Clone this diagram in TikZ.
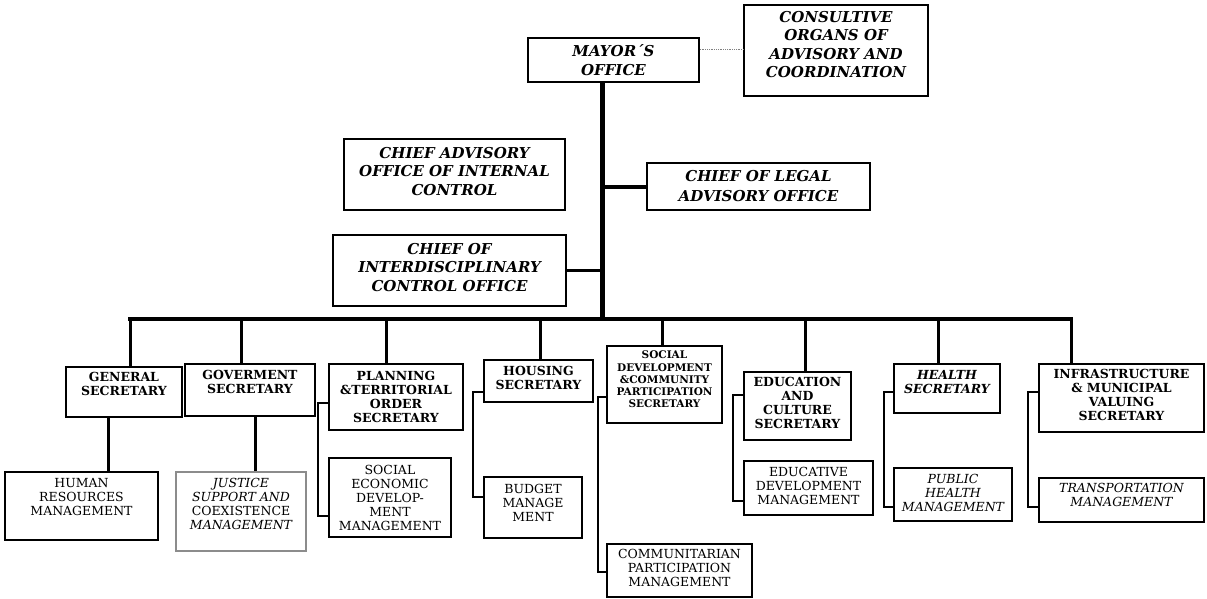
\documentclass[tikz,border=0pt]{standalone}
\usepackage{fontspec}
\setmainfont{DejaVu Serif}
\usetikzlibrary{fit}
\begin{document}
\begin{tikzpicture}[x=1pt,y=-1pt,
  box/.style={draw, line width=1.6pt, inner sep=0pt},
  gbox/.style={draw=black!45, line width=1.2pt, inner sep=0pt},
  txt/.style={align=center, inner sep=0pt},
  bi/.style={txt, font=\fontsize{15}{18.5}\selectfont\bfseries\itshape},
  bs/.style={txt, font=\fontsize{12.5}{14}\selectfont\bfseries},
  bsm/.style={txt, font=\fontsize{10.5}{12.3}\selectfont\bfseries},
  rg/.style={txt, font=\fontsize{12.5}{14}\selectfont},
  spineline/.style={line width=5pt},
  busline/.style={line width=3.5pt},
  drop/.style={line width=3pt},
  brk/.style={line width=2.5pt},
  dotline/.style={draw=black!50, line width=0.8pt, densely dotted}]
\useasboundingbox (0,0) rectangle (1207,599);

% top level
\node[box, fit={(528,38) (699,82)}] (mayor) {};
\node[bi] (mayor-t) at (mayor.center) {MAYOR´S\\OFFICE};
\node[box, fit={(744,5) (928,96)}] (cons) {};
\node[bi] (cons-t) at ([yshift=6pt]cons.center) {CONSULTIVE\\ORGANS OF\\ADVISORY AND\\COORDINATION};
\node[box, fit={(344,139) (565,210)}] (adv) {};
\node[bi] (adv-t) at ([yshift=3pt]adv.center) {CHIEF ADVISORY\\OFFICE OF INTERNAL\\CONTROL};
\node[box, fit={(647,163) (870,210)}] (legal) {};
\node[bi, font=\fontsize{15}{20}\selectfont\bfseries\itshape] (legal-t) at (legal.center) {CHIEF OF LEGAL\\ADVISORY OFFICE};
\node[box, fit={(333,235) (566,306)}] (inter) {};
\node[bi] (inter-t) at ([yshift=3pt]inter.center) {CHIEF OF\\INTERDISCIPLINARY\\CONTROL OFFICE};

% secretaries
\node[box, fit={(66,367) (182,417)}] (gen) {};
\node[bs] (gen-t) at ([yshift=8pt]gen.center) {GENERAL\\SECRETARY};
\node[box, fit={(185,364) (315,416)}] (gov) {};
\node[bs] (gov-t) at ([yshift=8pt]gov.center) {GOVERMENT\\SECRETARY};
\node[box, fit={(329,364) (463,430)}] (plan) {};
\node[bs] (plan-t) at (plan.center) {PLANNING\\\&TERRITORIAL\\ORDER\\SECRETARY};
\node[box, fit={(484,360) (593,402)}] (hous) {};
\node[bs] (hous-t) at ([yshift=3pt]hous.center) {HOUSING\\SECRETARY};
\node[box, fit={(607,346) (722,423)}] (soc) {};
\node[bsm] (soc-t) at ([yshift=5pt]soc.center) {SOCIAL\\DEVELOPMENT\\\&COMMUNITY\\PARTICIPATION\\SECRETARY};
\node[box, fit={(744,372) (851,440)}] (edu) {};
\node[bs] (edu-t) at ([yshift=3pt]edu.center) {EDUCATION\\AND\\CULTURE\\SECRETARY};
\node[box, fit={(894,364) (1000,413)}] (health) {};
\node[bs, font=\fontsize{12.5}{14}\selectfont\bfseries\itshape] (health-t) at ([yshift=6pt]health.center) {HEALTH\\SECRETARY};
\node[box, fit={(1039,364) (1204,432)}] (infra) {};
\node[bs] (infra-t) at ([yshift=3pt]infra.center) {INFRASTRUCTURE\\\& MUNICIPAL\\VALUING\\SECRETARY};

% managements
\node[box, fit={(5,472) (158,540)}] (hr) {};
\node[rg] (hr-t) at ([yshift=9pt]hr.center) {HUMAN\\RESOURCES\\MANAGEMENT};
\node[gbox, fit={(176,472) (306,551)}] (just) {};
\node[rg] (just-t) at ([yshift=8pt]just.center) {{\itshape JUSTICE}\\{\itshape SUPPORT AND}\\COEXISTENCE\\{\itshape MANAGEMENT}};
\node[box, fit={(329,458) (451,537)}] (socec) {};
\node[rg] (socec-t) at (socec.center) {SOCIAL\\ECONOMIC\\DEVELOP-\\MENT\\MANAGEMENT};
\node[box, fit={(484,477) (582,538)}] (budget) {};
\node[rg] (budget-t) at ([yshift=5pt]budget.center) {BUDGET\\MANAGE\\MENT};
\node[box, fit={(607,544) (752,597)}] (comm) {};
\node[rg] (comm-t) at ([yshift=3pt]comm.center) {COMMUNITARIAN\\PARTICIPATION\\MANAGEMENT};
\node[box, fit={(744,461) (873,515)}] (educ) {};
\node[rg] (educ-t) at ([yshift=2pt]educ.center) {EDUCATIVE\\DEVELOPMENT\\MANAGEMENT};
\node[box, fit={(894,468) (1012,521)}] (public) {};
\node[rg, font=\fontsize{12.5}{14}\selectfont\itshape] (public-t) at ([yshift=2pt]public.center) {PUBLIC\\HEALTH\\MANAGEMENT};
\node[box, fit={(1039,478) (1204,522)}] (trans) {};
\node[rg, font=\fontsize{12.5}{14}\selectfont\itshape] (trans-t) at ([yshift=5pt]trans.center) {TRANSPORTATION\\MANAGEMENT};

% spine and bus
\coordinate (spine) at (602,319);
\coordinate (busL) at (130,319);
\coordinate (busR) at (1071,319);
\draw[dotline] (mayor.east |- 0,49) -- (cons.west |- 0,49);
\draw[spineline] (spine |- mayor.south) -- (spine);
\draw[busline, line cap=rect] (busL) -- (busR);
\draw[line width=4pt] (legal.west) -- (legal.west -| spine);
\draw[drop] (inter.east) -- (inter.east -| spine);

% drops to secretaries
\draw[drop] (busL) -- (busL |- gen.north);
\draw[drop] (241,319) -- (gov.north -| 241,0);
\draw[drop] (386,319) -- (plan.north -| 386,0);
\draw[drop] (540,319) -- (hous.north -| 540,0);
\draw[drop] (662,319) -- (soc.north -| 662,0);
\draw[drop] (805,319) -- (edu.north -| 805,0);
\draw[drop] (938,319) -- (health.north -| 938,0);
\draw[drop] (busR) -- (busR |- infra.north);

% secretaries to managements
\draw[drop] (gen.south -| 108,0) -- (hr.north -| 108,0);
\draw[drop] (gov.south -| 255,0) -- (just.north -| 255,0);
\draw[brk] (plan.west |- 0,403) -| (318,460) |- (socec.west |- 0,516);
\draw[brk] (hous.west |- 0,392) -| (473,450) |- (budget.west |- 0,497);
\draw[brk] (soc.west |- 0,397) -| (598,500) |- (comm.west |- 0,572);
\draw[brk] (edu.west |- 0,395) -| (733,450) |- (educ.west |- 0,501);
\draw[brk] (health.west |- 0,392) -| (884,450) |- (public.west |- 0,507);
\draw[brk] (infra.west |- 0,392) -| (1028,450) |- (trans.west |- 0,507);
\end{tikzpicture}
\end{document}
